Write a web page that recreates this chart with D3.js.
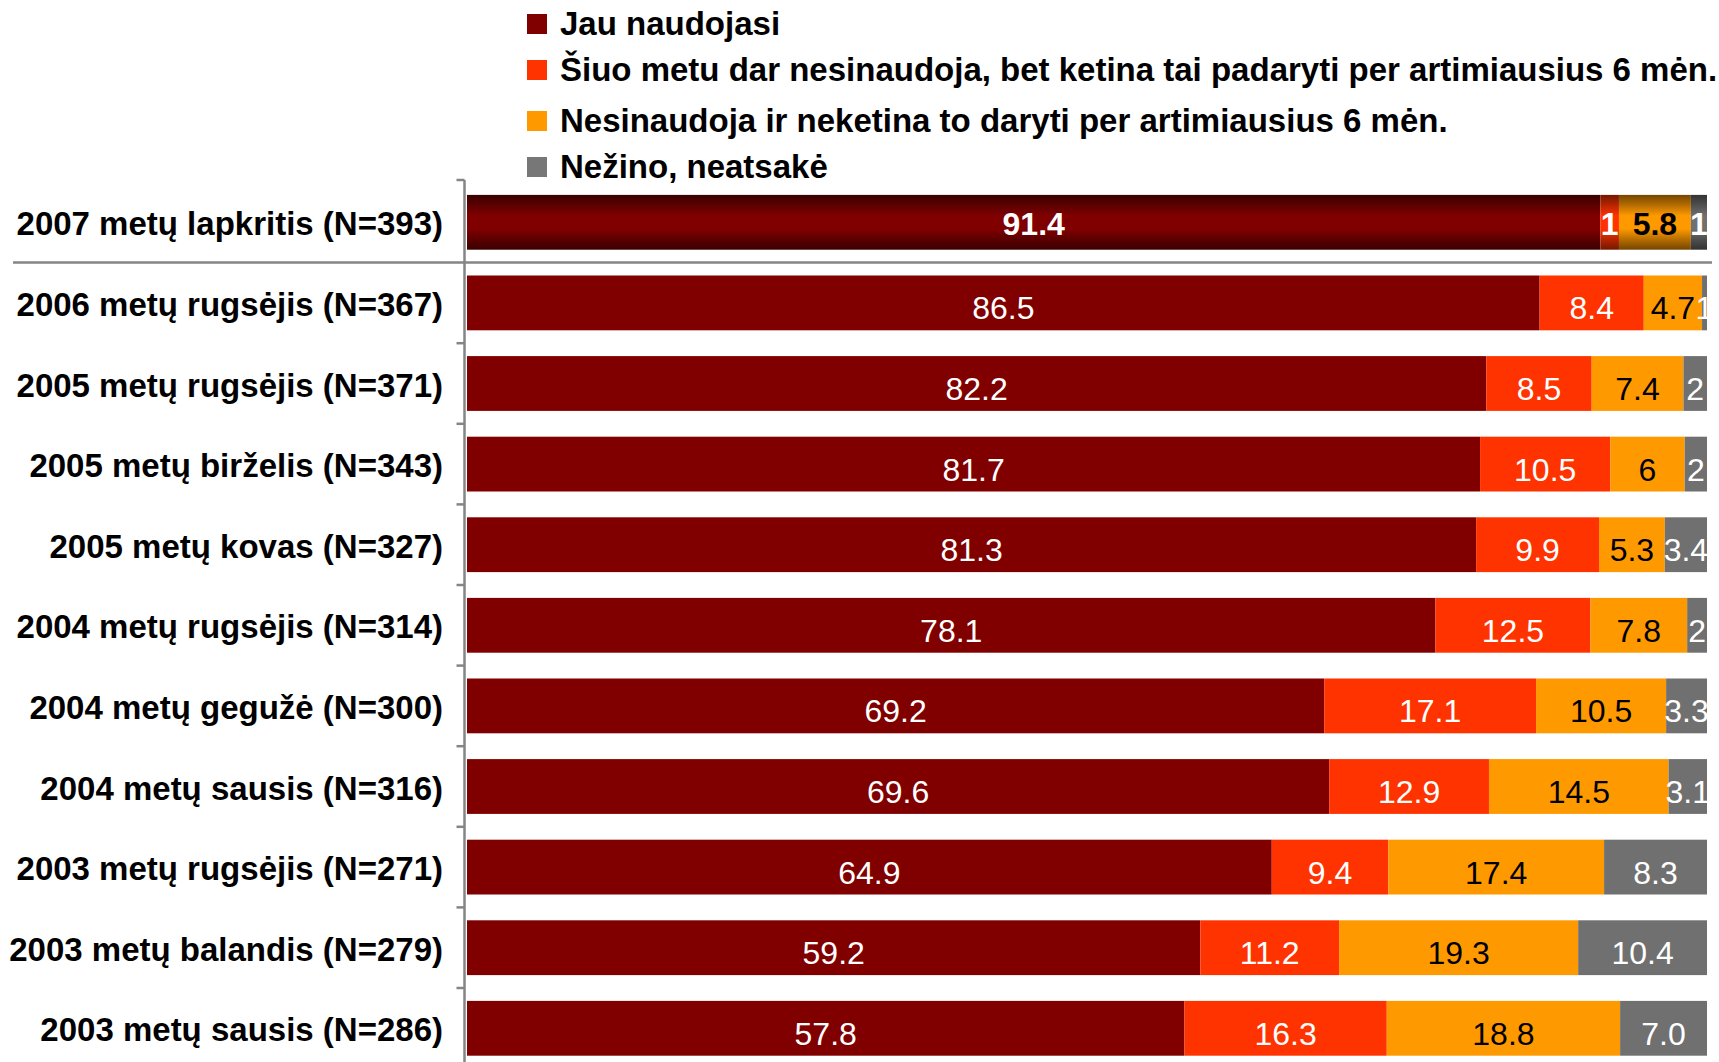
<!DOCTYPE html>
<html>
<head>
<meta charset="utf-8">
<script src="https://cdn.jsdelivr.net/npm/d3@7"></script>
<style>
  html, body { margin: 0; padding: 0; background: #ffffff; }
  svg { display: block; }
  text { font-family: "Liberation Sans", Arial, sans-serif; }
</style>
</head>
<body>
<svg id="chart" width="1719" height="1062"></svg>
<script>
// ---------- data ----------
const categories = [
  "2007 metų lapkritis (N=393)",
  "2006 metų rugsėjis (N=367)",
  "2005 metų rugsėjis (N=371)",
  "2005 metų birželis (N=343)",
  "2005 metų kovas (N=327)",
  "2004 metų rugsėjis (N=314)",
  "2004 metų gegužė (N=300)",
  "2004 metų sausis (N=316)",
  "2003 metų rugsėjis (N=271)",
  "2003 metų balandis (N=279)",
  "2003 metų sausis (N=286)"
];
const seriesNames = [
  "Jau naudojasi",
  "Šiuo metu dar nesinaudoja, bet ketina tai padaryti per artimiausius 6 mėn.",
  "Nesinaudoja ir neketina to daryti per artimiausius 6 mėn.",
  "Nežino, neatsakė"
];
const jau      = [91.4, 86.5, 82.2, 81.7, 81.3, 78.1, 69.2, 69.6, 64.9, 59.2, 57.8];
const ketina   = [1.5, 8.4, 8.5, 10.5, 9.9, 12.5, 17.1, 12.9, 9.4, 11.2, 16.3];
const neketina = [5.8, 4.7, 7.4, 6, 5.3, 7.8, 10.5, 14.5, 17.4, 19.3, 18.8];
const nezino   = [1.3, 0.4, 1.9, 1.8, 3.4, 1.6, 3.3, 3.1, 8.3, 10.4, 7.0];

const jauLabels      = ["91.4","86.5","82.2","81.7","81.3","78.1","69.2","69.6","64.9","59.2","57.8"];
const ketinaLabels   = ["1","8.4","8.5","10.5","9.9","12.5","17.1","12.9","9.4","11.2","16.3"];
const neketinaLabels = ["5.8","4.7","7.4","6","5.3","7.8","10.5","14.5","17.4","19.3","18.8"];
const nezinoLabels   = ["1","1","2","2","3.4","2","3.3","3.1","8.3","10.4","7.0"];

const colors = ["#800000", "#ff3300", "#ff9900", "#707070"];
const labelColors = ["#ffffff", "#ffffff", "#000000", "#ffffff"];

// ---------- build table ----------
const keys = ["jau", "ketina", "neketina", "nezino"];
const valueArrays = [jau, ketina, neketina, nezino];
const labelArrays = [jauLabels, ketinaLabels, neketinaLabels, nezinoLabels];
const table = categories.map((c, i) => {
  const row = { cat: c, idx: i };
  keys.forEach((k, j) => { row[k] = valueArrays[j][i]; });
  return row;
});

const stacked = d3.stack().keys(keys).offset(d3.stackOffsetExpand)(table);

// ---------- layout ----------
const svg = d3.select("#chart");
const axisX = 464.5;
const x = d3.scaleLinear().domain([0, 1]).range([467, 1707]);
const step = 80.6;
const y = d3.scaleBand()
  .domain(categories)
  .range([182, 182 + step * categories.length])
  .paddingInner(0.32)
  .paddingOuter(0.16);

// gradients for the highlighted first row
const defs = svg.append("defs");
colors.forEach((c, i) => {
  const g = defs.append("linearGradient")
    .attr("id", "grad" + i)
    .attr("x1", 0).attr("y1", 0).attr("x2", 0).attr("y2", 1);
  const dark = d3.color(c).darker(2.2).formatHex();
  const mid = d3.color(c).darker(1).formatHex();
  [[0, dark], [0.18, mid], [0.38, c], [0.62, c], [0.82, mid], [1, dark]].forEach(([o, col]) => {
    g.append("stop").attr("offset", o).attr("stop-color", col);
  });
});

// bars
const layers = svg.append("g").selectAll("g")
  .data(stacked)
  .join("g");

layers.selectAll("rect")
  .data((d, si) => d.map(p => ({ p, si })))
  .join("rect")
  .attr("x", d => x(d.p[0]))
  .attr("y", d => y(d.p.data.cat))
  .attr("width", d => x(d.p[1]) - x(d.p[0]))
  .attr("height", y.bandwidth())
  .attr("fill", d => d.p.data.idx === 0 ? `url(#grad${d.si})` : colors[d.si]);

// data labels
layers.selectAll("text")
  .data((d, si) => d.map(p => ({ p, si })))
  .join("text")
  .attr("x", d => (x(d.p[0]) + x(d.p[1])) / 2)
  .attr("y", d => y(d.p.data.cat) + y.bandwidth() / 2 + (d.p.data.idx === 0 ? 13 : 16.5))
  .attr("text-anchor", "middle")
  .attr("font-size", 32)
  .attr("font-weight", d => d.p.data.idx === 0 ? "bold" : "normal")
  .attr("fill", d => labelColors[d.si])
  .text(d => labelArrays[d.si][d.p.data.idx]);

// axis line and ticks at band boundaries
const axisG = svg.append("g");
axisG.append("line")
  .attr("x1", axisX).attr("x2", axisX)
  .attr("y1", 180).attr("y2", 1062)
  .attr("stroke", "#858585").attr("stroke-width", 2.5);
const boundaries = categories.map(c => y(c) - (y.step() - y.bandwidth()) / 2);
axisG.selectAll("line.tick")
  .data(boundaries.filter((b, i) => i !== 1))
  .join("line")
  .attr("class", "tick")
  .attr("x1", axisX - 8).attr("x2", axisX)
  .attr("y1", (b, i) => i === 0 ? 180 : b)
  .attr("y2", (b, i) => i === 0 ? 180 : b)
  .attr("stroke", "#858585").attr("stroke-width", 2.5);

// separator line between the latest survey and the others
svg.append("line")
  .attr("x1", 13).attr("x2", 1712)
  .attr("y1", boundaries[1]).attr("y2", boundaries[1])
  .attr("stroke", "#858585").attr("stroke-width", 2.5);

// category labels
svg.append("g").selectAll("text")
  .data(categories)
  .join("text")
  .attr("x", 443)
  .attr("y", c => y(c) + y.bandwidth() / 2 + 13)
  .attr("text-anchor", "end")
  .attr("font-size", 33)
  .attr("font-weight", "bold")
  .attr("fill", "#000")
  .text(c => c);

// legend
const legendY = [24, 70, 121, 167];
const legend = svg.append("g").selectAll("g")
  .data(seriesNames)
  .join("g")
  .attr("transform", (d, i) => `translate(527,${legendY[i]})`);
legend.append("rect")
  .attr("x", 0).attr("y", -10)
  .attr("width", 20).attr("height", 20)
  .attr("fill", (d, i) => i === 3 ? "#777777" : colors[i]);
legend.append("text")
  .attr("x", 33).attr("y", 11)
  .attr("font-size", 33)
  .attr("font-weight", "bold")
  .attr("fill", "#000")
  .text(d => d);
</script>
</body>
</html>
